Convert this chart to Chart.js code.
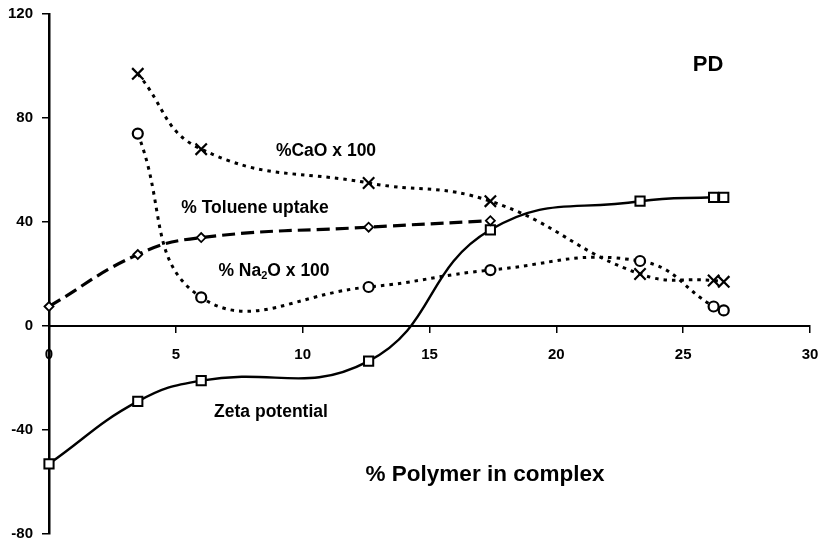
<!DOCTYPE html>
<html>
<head>
<meta charset="utf-8">
<script src="https://cdn.jsdelivr.net/npm/chart.js@4"></script>
<style>
  html, body { margin: 0; padding: 0; background: #fff; }
  #wrap { width: 820px; height: 546px; }
</style>
</head>
<body>
<div id="wrap"><canvas id="chart"></canvas></div>
<script>
// x positions (% polymer in complex)
var polymerPct = [0, 3.5, 6, 12.6, 17.4, 23.3, 26.2, 26.6];

var caoX100   = [null, 97, 68, 55, 48, 20, 17.5, 17];
var na2oX100  = [null, 74, 11, 15, 21.5, 25, 7.5, 6];
var toluene   = [7.5, 27.5, 34, 38, 40.5, null, null, null];
var zeta      = [-53, -29, -21, -13.5, 37, 48, 49.5, 49.5];

var xTicks = [0, 5, 10, 15, 20, 25, 30];
var yTicks = [-80, -40, 0, 40, 80, 120];

function toPoints(vals) {
  var pts = [];
  for (var i = 0; i < vals.length; i++) {
    if (vals[i] !== null) pts.push({ x: polymerPct[i], y: vals[i] });
  }
  return pts;
}

var FONT = "'Liberation Sans', Arial, sans-serif";

// labels written inside the plot
var textPlugin = {
  id: 'plotText',
  afterDraw: function (chart) {
    var ctx = chart.ctx;
    ctx.save();
    ctx.fillStyle = '#000';
    ctx.textBaseline = 'middle';
    ctx.textAlign = 'center';

    ctx.font = 'bold 17.5px ' + FONT;
    ctx.fillText('%CaO x 100', 326, 151);
    ctx.fillText('% Toluene uptake', 255, 208);
    ctx.fillText('Zeta potential', 271, 412);

    // % Na2O x 100 with subscript
    var a = '% Na', b = '2', c = 'O x 100';
    ctx.font = 'bold 17.5px ' + FONT;
    var wa = ctx.measureText(a).width, wc = ctx.measureText(c).width;
    ctx.font = 'bold 11px ' + FONT;
    var wb = ctx.measureText(b).width;
    var x0 = 274 - (wa + wb + wc) / 2;
    ctx.textAlign = 'left';
    ctx.font = 'bold 17.5px ' + FONT;
    ctx.fillText(a, x0, 271);
    ctx.font = 'bold 11px ' + FONT;
    ctx.fillText(b, x0 + wa, 276);
    ctx.font = 'bold 17.5px ' + FONT;
    ctx.fillText(c, x0 + wa + wb, 271);

    ctx.textAlign = 'center';
    ctx.font = 'bold 22px ' + FONT;
    ctx.fillText('PD', 708, 65);

    ctx.font = 'bold 22.5px ' + FONT;
    ctx.fillText('% Polymer in complex', 485, 475);
    ctx.restore();
  }
};

new Chart(document.getElementById('chart'), {
  type: 'scatter',
  data: {
    datasets: [
      {
        label: '%CaO x 100',
        data: toPoints(caoX100),
        showLine: true,
        clip: false,
        tension: 0.45,
        borderColor: '#000',
        borderWidth: 3,
        borderDash: [3.5, 5],
        pointStyle: 'crossRot',
        pointRadius: 8,
        pointBorderWidth: 2.2,
        pointBorderColor: '#000',
        pointBackgroundColor: '#000'
      },
      {
        label: '% Na2O x 100',
        data: toPoints(na2oX100),
        showLine: true,
        clip: false,
        tension: 0.45,
        borderColor: '#000',
        borderWidth: 3,
        borderDash: [3.5, 5],
        pointStyle: 'circle',
        pointRadius: 5,
        pointBorderWidth: 2.2,
        pointBorderColor: '#000',
        pointBackgroundColor: '#fff'
      },
      {
        label: '% Toluene uptake',
        data: toPoints(toluene),
        showLine: true,
        clip: false,
        tension: 0.45,
        borderColor: '#000',
        borderWidth: 3.2,
        borderDash: [13, 6],
        pointStyle: 'rectRot',
        pointRadius: 4.5,
        pointBorderWidth: 1.8,
        pointBorderColor: '#000',
        pointBackgroundColor: '#fff'
      },
      {
        label: 'Zeta potential',
        data: toPoints(zeta),
        showLine: true,
        clip: false,
        tension: 0.45,
        borderColor: '#000',
        borderWidth: 2.4,
        pointStyle: 'rect',
        pointRadius: 6.5,
        pointBorderWidth: 2,
        pointBorderColor: '#000',
        pointBackgroundColor: '#fff'
      }
    ]
  },
  options: {
    responsive: true,
    maintainAspectRatio: false,
    animation: false,
    layout: { autoPadding: false, padding: { top: 14, right: 10, bottom: 12, left: 0 } },
    plugins: {
      legend: { display: false },
      tooltip: { enabled: false }
    },
    scales: {
      x: {
        type: 'linear',
        position: { y: 0 },
        min: 0,
        max: 30,
        afterBuildTicks: function (scale) {
          scale.ticks = xTicks.map(function (v) { return { value: v }; });
        },
        afterFit: function (scale) {
          scale.paddingLeft = 0;
          scale.paddingRight = 0;
        },
        grid: {
          drawOnChartArea: false,
          drawTicks: true,
          tickLength: 6,
          color: '#000',
          lineWidth: 1.5
        },
        border: { display: true, color: '#000', width: 2 },
        ticks: {
          color: '#000',
          font: { family: FONT, size: 15, weight: 'bold' },
          padding: 14,
          maxRotation: 0
        }
      },
      y: {
        type: 'linear',
        min: -80,
        max: 120,
        afterBuildTicks: function (scale) {
          scale.ticks = yTicks.map(function (v) { return { value: v }; });
        },
        afterFit: function (scale) {
          scale.width = 49;
          scale.paddingTop = 0;
          scale.paddingBottom = 0;
        },
        grid: {
          drawOnChartArea: false,
          drawTicks: true,
          tickLength: 7,
          color: '#000',
          lineWidth: 1.5
        },
        border: { display: true, color: '#000', width: 2.5 },
        ticks: {
          color: '#000',
          font: { family: FONT, size: 15, weight: 'bold' },
          padding: 9
        }
      }
    }
  },
  plugins: [textPlugin]
});
</script>
</body>
</html>
